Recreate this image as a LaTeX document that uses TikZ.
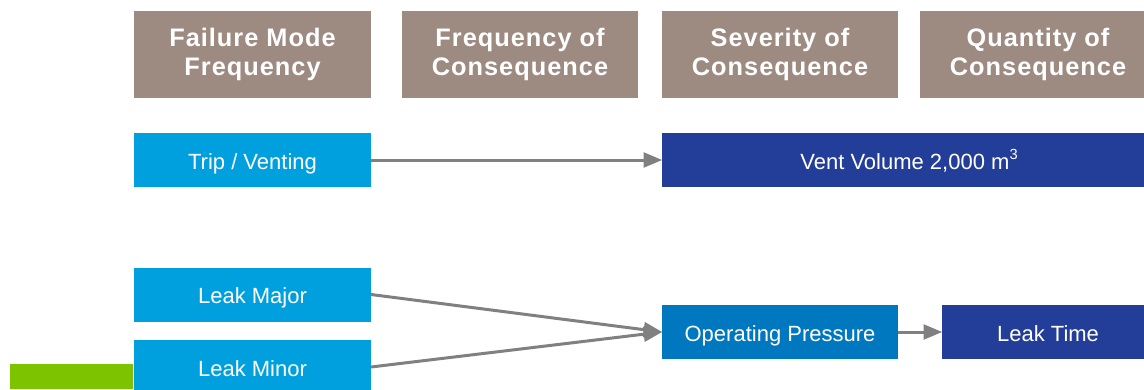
\documentclass[tikz,border=0pt]{standalone}
\usepackage{fontspec}
\setmainfont{Liberation Sans}
\newfontfamily\hdrfont[LetterSpace=4]{Liberation Sans}
\usetikzlibrary{arrows}

\definecolor{hdrgray}{RGB}{157,139,130}
\definecolor{modeblue}{RGB}{0,159,222}
\definecolor{navyblue}{RGB}{35,62,152}
\definecolor{pressblue}{RGB}{0,120,192}
\definecolor{bargreen}{RGB}{126,195,0}
\definecolor{arrowgray}{RGB}{128,128,128}

\begin{document}
\begin{tikzpicture}[x=0.75pt,y=-0.75pt,>=triangle 45,
    hdr/.style={fill=hdrgray, text=white, align=center, inner sep=0pt, outer sep=0pt,
        font=\hdrfont\fontsize{19}{21.75}\selectfont\bfseries, minimum height=65.25pt},
    box/.style={text=white, inner sep=0pt, outer sep=0pt, text height=13.5pt, text depth=0pt,
        font=\fontsize{16.5}{19}\selectfont, minimum height=40.5pt},
    link/.style={->, draw=arrowgray, line width=2.25pt}]
    \useasboundingbox (0,0) rectangle (1144,389);

    % column headers
    \node [hdr, minimum width=177.75pt] (fmf) at (252.5, 54.5) {Failure Mode\\Frequency};
    \node [hdr, minimum width=177pt] (foc) at (520, 54.5) {Frequency of\\Consequence};
    \node [hdr, minimum width=177pt] (soc) at (780, 54.5) {Severity of\\Consequence};
    \node [hdr, minimum width=177pt] (qoc) at (1038, 54.5) {Quantity of\\Consequence};

    % failure modes
    \node [box, fill=modeblue, minimum width=177.75pt] (trip) at (252.5, 160) {Trip / Venting};
    \node [box, fill=modeblue, minimum width=177.75pt] (major) at (252.5, 294.5) {Leak Major};
    \node [box, fill=modeblue, minimum width=177.75pt] (minor) at (252.5, 367) {Leak Minor};

    % consequences
    \node [box, fill=navyblue, minimum width=370.5pt] (vent) at (909, 160) {Vent Volume 2,000 m\raisebox{0.8ex}{\fontsize{11}{11}\selectfont 3}};
    \node [box, fill=pressblue, minimum width=177pt] (press) at (780, 332) {Operating Pressure};
    \node [box, fill=navyblue, minimum width=159pt] (leak) at (1048, 332) {Leak Time};

    \fill [bargreen] (10,364) rectangle (133,389);

    \draw [link] (trip) -- (vent);
    \draw [link] (major.east) -- (press.west);
    \draw [link] (minor.east) -- (press.west);
    \draw [link] (press) -- (leak);

\end{tikzpicture}
\end{document}
